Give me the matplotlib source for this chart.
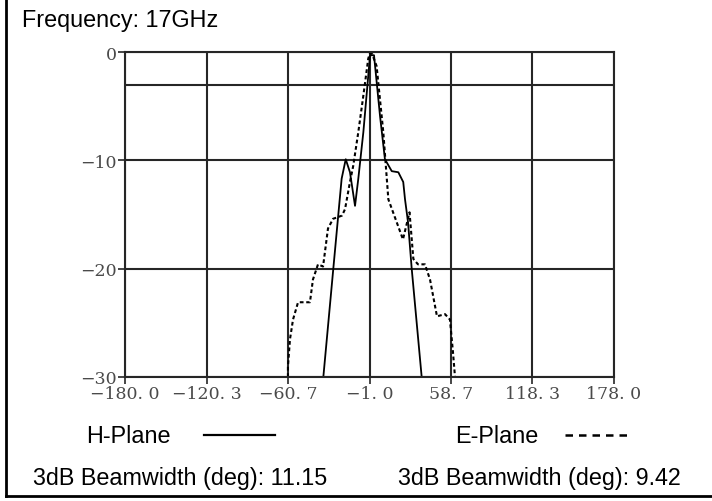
"""
Antenna radiation pattern at 17 GHz: H-plane vs E-plane.
Saves out.png (712x502).
"""
import matplotlib
matplotlib.use("Agg")
import matplotlib.pyplot as plt
from matplotlib.lines import Line2D


# angle (deg) / relative level (dB)
h_deg = [-34.8, -27.5, -21.4, -18.4, -15.3, -11.6, -9.2, -5.5, -0.6, 2.3,
         6.7, 10.3, 15.3, 20.1, 23.7, 25.0, 27.2, 29.9, 37.2]
h_db = [-30.0, -20.0, -11.7, -9.9, -11.1, -14.2, -11.7, -7.4, -0.3, -0.3,
        -5.9, -9.9, -11.0, -11.1, -12.0, -13.6, -15.7, -20.0, -30.0]

e_deg = [-60.7, -60.7, -59.2, -57.0, -53.3, -44.6, -42.4, -38.7, -35.0, -31.4,
         -27.7, -21.1, -18.9, -15.3, -12.9, -9.2, -5.8, -1.9, -0.6, 1.0,
         4.2, 9.1, 12.8, 23.5, 28.3, 31.1, 34.5, 39.6, 43.3, 48.4,
         54.3, 57.9, 60.1, 61.6]
e_db = [-30.0, -29.0, -26.5, -24.7, -23.1, -23.1, -21.0, -19.6, -19.8, -16.3,
        -15.4, -15.1, -14.5, -12.0, -10.5, -7.4, -4.3, -0.6, -0.1, -0.2,
        -1.3, -7.4, -13.6, -17.3, -14.8, -19.1, -19.6, -19.6, -21.0, -24.4,
        -24.2, -24.7, -27.7, -30.0]

x_ticks = [-180.0, -120.3, -60.7, -1.0, 58.7, 118.3, 178.0]
x_labels = ["\u2212180. 0", "\u2212120. 3", "\u221260. 7", "\u22121. 0",
            "58. 7", "118. 3", "178. 0"]
y_ticks = [0, -10, -20, -30]
y_labels = ["0", "\u221210", "\u221220", "\u221230"]
ref_level = -3

freq_text = "Frequency: 17GHz"
h_label = "H-Plane"
e_label = "E-Plane"
h_bw = "3dB Beamwidth (deg): 11.15"
e_bw = "3dB Beamwidth (deg): 9.42"

W, H = 712, 502


def fx(px):
    return px / W


def fy(py):
    return 1 - py / H


fig = plt.figure(figsize=(W / 100, H / 100), dpi=100)
ax = fig.add_axes([fx(125), fy(378), fx(614) - fx(125), fy(53) - fy(378)])

grid_c = "#262626"
ax.set_xlim(-180, 178)
ax.set_ylim(-30, 0)
ax.set_xticks(x_ticks)
ax.set_xticklabels(x_labels)
ax.set_yticks(y_ticks)
ax.set_yticklabels(y_labels)
ax.grid(True, color=grid_c, linewidth=1.5)
ax.axhline(ref_level, color=grid_c, linewidth=1.5)
for s in ax.spines.values():
    s.set_color(grid_c)
    s.set_linewidth(1.5)
ax.tick_params(direction="out", length=5, width=1.2, color=grid_c,
               labelcolor="#4a4a4a", labelsize=12.5, pad=1)
for lab in ax.get_xticklabels() + ax.get_yticklabels():
    lab.set_family("DejaVu Serif")

ax.plot(h_deg, h_db, color="black", linewidth=1.3)
ax.plot(e_deg, e_db, color="black", linewidth=1.5, linestyle=(0, (1.8, 1.3)))

# text block
sans = "Liberation Sans"
fs = 16.8
fig.text(fx(22), fy(27), freq_text, family=sans, fontsize=fs, va="baseline")
fig.text(fx(86), fy(443), h_label, family=sans, fontsize=fs, va="baseline")
fig.text(fx(455), fy(443), e_label, family=sans, fontsize=fs, va="baseline")
fig.text(fx(33), fy(485), h_bw, family=sans, fontsize=fs, va="baseline")
fig.text(fx(398), fy(485), e_bw, family=sans, fontsize=fs, va="baseline")

fig.add_artist(Line2D([fx(204), fx(275)], [fy(436), fy(436)],
                      color="black", linewidth=1.6))
fig.add_artist(Line2D([fx(565), fx(629)], [fy(436), fy(436)],
                      color="black", linewidth=1.8,
                      dashes=(3.0, 2.4)))

# outer frame (left and bottom edges visible)
fig.add_artist(Line2D([fx(6), fx(6)], [fy(497), 1.0], color="black", linewidth=2))
fig.add_artist(Line2D([fx(6), 1.0], [fy(497), fy(497)], color="black", linewidth=2))

fig.savefig("out.png", dpi=100)
plt.close(fig)
